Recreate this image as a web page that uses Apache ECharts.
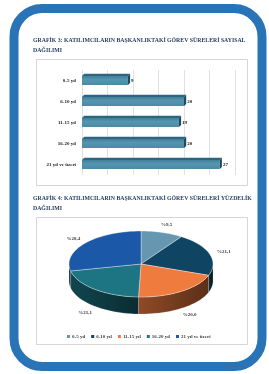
<!DOCTYPE html>
<html>
<head>
<meta charset="utf-8">
<script src="https://cdn.jsdelivr.net/npm/echarts@6/dist/echarts.min.js"></script>
<style>
html, body { margin: 0; padding: 0; background: #fff; }
#main { width: 269px; height: 374px; }
</style>
</head>
<body>
<div id="main"></div>
<script>
var categories = ['0-5 yıl', '6-10 yıl', '11-15 yıl', '16-20 yıl', '21 yıl ve üzeri'];
var counts = [9, 20, 19, 20, 27];
var percents = [9.5, 21.1, 20.0, 21.1, 28.4];
var pieColors = ['#6598b0', '#0f4462', '#f07b3f', '#1d7483', '#1c58a8'];

var serif = '"Liberation Serif", "DejaVu Serif", serif';
var PIE = { cx: 141, cy: 264, rx: 72, ry: 33, depth: 17 };

var total = percents.reduce(function (a, b) { return a + b; }, 0);

// darken a #rrggbb colour by factor f (0..1)
function shade(hex, f) {
	var n = parseInt(hex.slice(1), 16);
	var r = Math.round(((n >> 16) & 255) * f);
	var g = Math.round(((n >> 8) & 255) * f);
	var b = Math.round((n & 255) * f);
	return 'rgb(' + r + ',' + g + ',' + b + ')';
}

function ePt(t, dy) {
	return [PIE.cx + PIE.rx * Math.sin(t), PIE.cy - PIE.ry * Math.cos(t) + (dy || 0)];
}

function arcPts(a, b, dy) {
	var pts = [];
	var n = Math.max(4, Math.ceil((b - a) / 0.05));
	for (var k = 0; k <= n; k++) {
		pts.push(ePt(a + (b - a) * k / n, dy));
	}
	return pts;
}

function sliceRender(i) {
	return function (params, api) {
		var before = 0;
		for (var j = 0; j < i; j++) before += percents[j];
		var a0 = before / total * Math.PI * 2;
		var a1 = (before + percents[i]) / total * Math.PI * 2;
		var color = pieColors[i];
		var children = [];

		// side wall, only the front half is visible
		var s0 = Math.max(a0, Math.PI / 2), s1 = Math.min(a1, Math.PI * 1.5);
		if (s1 > s0) {
			var sidePts = arcPts(s0, s1, 0).concat(arcPts(s0, s1, PIE.depth).reverse());
			var l = ePt(s0)[0], r = ePt(s1)[0];
			children.push({
				type: 'polygon',
				shape: { points: sidePts },
				style: {
					fill: new echarts.graphic.LinearGradient(0, 0, 1, 0, [
						{ offset: 0, color: shade(color, 0.6) },
						{ offset: 1, color: shade(color, 0.38) }
					]),
					stroke: 'rgba(255,255,255,0.45)',
					lineWidth: 0.4
				}
			});
		}

		// top face
		var topPts = [[PIE.cx, PIE.cy]].concat(arcPts(a0, a1, 0));
		children.push({
			type: 'polygon',
			shape: { points: topPts },
			style: { fill: color, stroke: 'rgba(255,255,255,0.7)', lineWidth: 0.5 }
		});

		// label
		var m = (a0 + a1) / 2;
		var lx = PIE.cx + (PIE.rx + 15) * Math.sin(m);
		var ly = PIE.cy - (PIE.ry + 8) * Math.cos(m) + (Math.cos(m) < 0 ? PIE.depth : 0);
		children.push({
			type: 'text',
			x: lx, y: ly,
			style: {
				text: '%' + percents[i].toFixed(1).replace('.', ','),
				fill: '#404040',
				font: 'bold 5px ' + serif,
				align: 'center',
				verticalAlign: 'middle'
			}
		});
		return { type: 'group', children: children };
	};
}

var pieSeries = categories.map(function (name, i) {
	return {
		type: 'custom',
		name: name,
		coordinateSystem: 'none',
		silent: true,
		itemStyle: { color: pieColors[i] },
		data: [[percents[i]]],
		renderItem: sliceRender(i)
	};
});

var barSeries = {
	type: 'custom',
	xAxisIndex: 0,
	yAxisIndex: 0,
	silent: true,
	data: counts.map(function (v, i) { return [v, i]; }),
	renderItem: function (params, api) {
		var v = api.value(0), c = api.value(1);
		var p0 = api.coord([0, c]);
		var p1 = api.coord([v, c]);
		var h = api.size([0, 1])[1] * 0.44;
		var d = 2.2;
		var x0 = p0[0], x1 = p1[0];
		var yT = p0[1] - h / 2, yB = p0[1] + h / 2;
		return {
			type: 'group',
			children: [
				{
					type: 'rect',
					shape: { x: x0, y: yT, width: x1 - x0, height: h },
					style: {
						fill: new echarts.graphic.LinearGradient(0, 0, 0, 1, [
							{ offset: 0, color: '#3f7f9a' },
							{ offset: 0.4, color: '#5595b0' },
							{ offset: 1, color: '#4a8aa5' }
						])
					}
				},
				{
					type: 'polygon',
					shape: { points: [[x0, yT], [x0 + d, yT - d], [x1 + d, yT - d], [x1, yT]] },
					style: { fill: '#2c6580' }
				},
				{
					type: 'polygon',
					shape: { points: [[x1, yT], [x1 + d, yT - d], [x1 + d, yB - d], [x1, yB]] },
					style: { fill: '#1d4c60' }
				},
				{
					type: 'text',
					x: x1 + d + 1, y: p0[1],
					style: {
						text: String(v),
						fill: '#202020',
						font: 'bold 5px ' + serif,
						verticalAlign: 'middle'
					}
				}
			]
		};
	}
};

var titleStyle = { fill: '#1f3a5f', font: 'bold 5.8px ' + serif };

var option = {
	animation: false,
	grid: { left: 82, top: 70, width: 153, height: 105, containLabel: false },
	xAxis: {
		type: 'value',
		min: 0,
		max: 30,
		interval: 5,
		axisLabel: { show: false },
		axisLine: { show: false },
		axisTick: { show: false },
		splitLine: { lineStyle: { color: '#d9d9d9', width: 0.8 } }
	},
	yAxis: {
		type: 'category',
		inverse: true,
		data: categories,
		axisLine: { show: false },
		axisTick: { show: false },
		axisLabel: { fontSize: 5, fontWeight: 'bold', fontFamily: serif, color: '#202020', margin: 6 }
	},
	legend: {
		left: 67,
		top: 334,
		icon: 'rect',
		itemWidth: 3,
		itemHeight: 3,
		itemGap: 6,
		padding: 0,
		data: categories,
		textStyle: { fontSize: 5, fontWeight: 'bold', fontFamily: serif, color: '#404040', padding: [0, 0, 0, -3] }
	},
	graphic: {
		elements: [
			{
				type: 'rect',
				shape: { x: 14, y: 8.5, width: 248, height: 358, r: 28 },
				style: { fill: 'none', stroke: '#2874b7', lineWidth: 9 }
			},
			{
				type: 'rect',
				shape: { x: 36.5, y: 59.5, width: 211, height: 126 },
				style: { fill: 'none', stroke: '#d6d6d6', lineWidth: 1 }
			},
			{
				type: 'rect',
				shape: { x: 36.5, y: 217.5, width: 211, height: 127 },
				style: { fill: 'none', stroke: '#d6d6d6', lineWidth: 1 }
			},
			{ type: 'text', x: 33, y: 37.5, style: Object.assign({ text: 'GRAFİK 3: KATILIMCILARIN BAŞKANLIKTAKİ GÖREV SÜRELERİ SAYISAL' }, titleStyle) },
			{ type: 'text', x: 33, y: 47.5, style: Object.assign({ text: 'DAĞILIMI' }, titleStyle) },
			{ type: 'text', x: 33, y: 195.5, style: Object.assign({ text: 'GRAFİK 4: KATILIMCILARIN BAŞKANLIKTAKİ GÖREV SÜRELERİ YÜZDELİK' }, titleStyle) },
			{ type: 'text', x: 33, y: 205.5, style: Object.assign({ text: 'DAĞILIMI' }, titleStyle) }
		]
	},
	series: [barSeries].concat(pieSeries)
};

var myChart = echarts.init(document.getElementById('main'));
myChart.setOption(option);
</script>
</body>
</html>
